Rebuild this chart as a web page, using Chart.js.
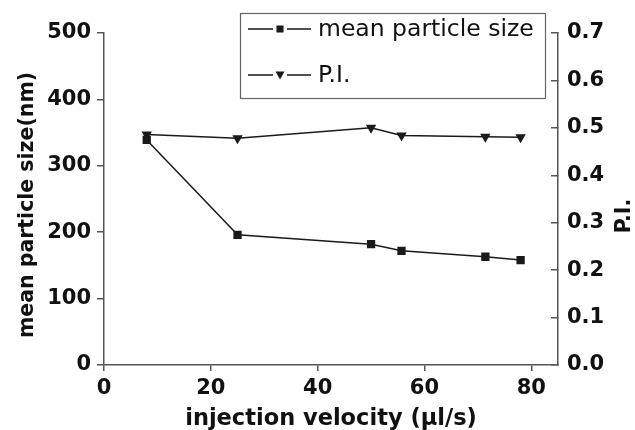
<!DOCTYPE html>
<html>
<head>
<meta charset="utf-8">
<script src="https://cdn.jsdelivr.net/npm/chart.js@4/dist/chart.umd.min.js"></script>
<style>
  html, body { margin: 0; padding: 0; background: #fff; }
  #wrap { width: 635px; height: 430px; position: relative; }
</style>
</head>
<body>
<div id="wrap"><canvas id="c" width="635" height="430"></canvas></div>
<script>
const velocity = [8, 25, 50, 55.7, 71.4, 78];
const meanSize = [339, 196, 182, 172, 163, 158];
const polyIndex = [0.486, 0.478, 0.500, 0.484, 0.481, 0.480];
const xTicks = [0, 20, 40, 60, 80];
const yLeftTicks = [0, 100, 200, 300, 400, 500];
const yRightTicks = [0.0, 0.1, 0.2, 0.3, 0.4, 0.5, 0.6, 0.7];
const seriesNames = ['mean particle size', 'P.I.'];
const xTitle = 'injection velocity (\u00b5l/s)';
const yLeftTitle = 'mean particle size(nm)';
const yRightTitle = 'P.I.';

const FONT = '"DejaVu Sans", "Liberation Sans", Arial, sans-serif';
const AXIS = '#555';
const INK = '#1a1a1a';

function keepTicks(list) {
  return function (scale) {
    scale.ticks = list.map(v => ({ value: v }));
  };
}

const titlesAndLegend = {
  id: 'titlesAndLegend',
  afterDraw(chart) {
    const ctx = chart.ctx;
    const ca = chart.chartArea;
    ctx.save();
    ctx.fillStyle = '#111';
    // x title
    ctx.font = 'bold 22.5px ' + FONT;
    ctx.textAlign = 'center';
    ctx.textBaseline = 'alphabetic';
    ctx.fillText(xTitle, (ca.left + ca.right) / 2, 425);
    // left title
    ctx.save();
    ctx.translate(28, 205);
    ctx.rotate(-Math.PI / 2);
    ctx.font = 'bold 20.5px ' + FONT;
    ctx.textBaseline = 'middle';
    ctx.fillText(yLeftTitle, 0, 0);
    ctx.restore();
    // right title
    ctx.save();
    ctx.translate(625, 216);
    ctx.rotate(-Math.PI / 2);
    ctx.font = 'bold 20.5px ' + FONT;
    ctx.textBaseline = 'middle';
    ctx.fillText(yRightTitle, 0, 0);
    ctx.restore();

    // legend
    const bx = 240, by = 13, bw = 305, bh = 85;
    ctx.fillStyle = '#fff';
    ctx.fillRect(bx, by, bw, bh);
    ctx.strokeStyle = '#666';
    ctx.lineWidth = 1.2;
    ctx.strokeRect(bx + 0.5, by + 0.5, bw, bh);
    const rows = [29, 75];
    rows.forEach((ry, i) => {
      ctx.strokeStyle = INK;
      ctx.lineWidth = 1.5;
      ctx.beginPath();
      ctx.moveTo(248, ry);
      ctx.lineTo(273, ry);
      ctx.moveTo(287, ry);
      ctx.lineTo(311, ry);
      ctx.stroke();
      ctx.fillStyle = INK;
      if (i === 0) {
        ctx.fillRect(280 - 3.5, ry - 3.5, 7, 7);
      } else {
        ctx.beginPath();
        ctx.moveTo(280 - 4.5, ry - 3.5);
        ctx.lineTo(280 + 4.5, ry - 3.5);
        ctx.lineTo(280, ry + 4.5);
        ctx.closePath();
        ctx.fill();
      }
      ctx.fillStyle = '#111';
      ctx.font = '23.5px ' + FONT;
      ctx.textAlign = 'left';
      ctx.textBaseline = 'middle';
      ctx.fillText(seriesNames[i], 318, ry + 1);
    });
    ctx.restore();
  }
};

new Chart(document.getElementById('c'), {
  type: 'line',
  data: {
    datasets: [
      {
        label: seriesNames[0],
        data: velocity.map((x, i) => ({ x: x, y: meanSize[i] })),
        yAxisID: 'y',
        borderColor: INK,
        backgroundColor: INK,
        borderWidth: 1.5,
        pointStyle: 'rect',
        pointRadius: 4.8,
        pointHoverRadius: 4.8,
        tension: 0,
        fill: false
      },
      {
        label: seriesNames[1],
        data: velocity.map((x, i) => ({ x: x, y: polyIndex[i] })),
        yAxisID: 'y2',
        borderColor: INK,
        backgroundColor: INK,
        borderWidth: 1.5,
        pointStyle: 'triangle',
        rotation: 180,
        pointRadius: 4.5,
        pointHoverRadius: 4.5,
        tension: 0,
        fill: false
      }
    ]
  },
  options: {
    responsive: false,
    animation: false,
    events: [],
    layout: { padding: { left: 0, right: 0, top: 33, bottom: 0 } },
    plugins: {
      legend: { display: false },
      tooltip: { enabled: false },
      title: { display: false }
    },
    scales: {
      x: {
        type: 'linear',
        position: 'bottom',
        min: 0,
        max: 85,
        afterBuildTicks: keepTicks(xTicks),
        afterFit(s) { s.height = 65; },
        ticks: {
          font: { family: FONT, size: 21, weight: 'bold' },
          color: '#111',
          padding: 5,
          maxRotation: 0,
          autoSkip: false,
          includeBounds: false
        },
        grid: {
          drawOnChartArea: false,
          drawTicks: true,
          tickLength: 6,
          color: AXIS,
          lineWidth: 1.5
        },
        border: { display: true, color: AXIS, width: 1.5 }
      },
      y: {
        type: 'linear',
        position: 'left',
        min: 0,
        max: 500,
        afterBuildTicks: keepTicks(yLeftTicks),
        afterFit(s) { s.width = 104; },
        ticks: {
          font: { family: FONT, size: 21, weight: 'bold' },
          color: '#111',
          padding: 6,
          autoSkip: false,
          includeBounds: false
        },
        grid: {
          drawOnChartArea: false,
          drawTicks: true,
          tickLength: 7,
          color: AXIS,
          lineWidth: 1.5
        },
        border: { display: true, color: AXIS, width: 1.5 }
      },
      y2: {
        type: 'linear',
        position: 'right',
        min: 0,
        max: 0.7,
        afterBuildTicks: keepTicks(yRightTicks),
        afterFit(s) { s.width = 77; },
        ticks: {
          font: { family: FONT, size: 21, weight: 'bold' },
          color: '#111',
          padding: 16,
          autoSkip: false,
          includeBounds: false,
          callback: v => Number(v).toFixed(1)
        },
        grid: {
          drawOnChartArea: false,
          drawTicks: true,
          tickLength: -7,
          color: AXIS,
          lineWidth: 1.5
        },
        border: { display: true, color: AXIS, width: 1.5 }
      }
    }
  },
  plugins: [titlesAndLegend]
});
</script>
</body>
</html>
